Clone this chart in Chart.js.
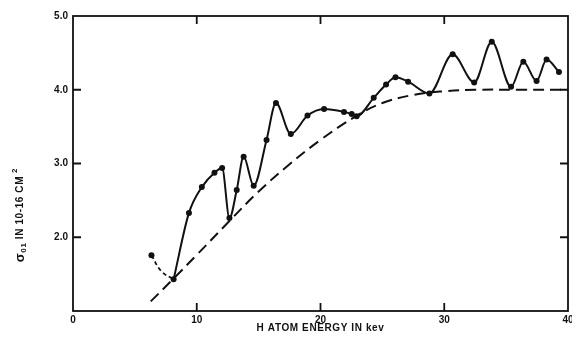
<!DOCTYPE html>
<html><head><meta charset="utf-8">
<script src="https://cdn.jsdelivr.net/npm/chart.js@4/dist/chart.umd.min.js"></script>
<style>html,body{margin:0;padding:0;background:#fff}</style>
</head><body>
<canvas id="c" width="572" height="344"></canvas>
<script>
// Measured cross section (solid curve with dots), energy in keV
const energyMeasured = [8.13, 9.37, 10.41, 11.43, 12.05, 12.64, 13.23, 13.79, 14.6, 15.64, 16.4, 17.6, 18.95, 20.29, 21.9, 22.52, 22.92, 24.3, 25.3, 26.06, 27.08, 28.8, 30.68, 32.42, 33.84, 35.4, 36.39, 37.46, 38.27, 39.27];
const sigmaMeasured  = [1.43, 2.33, 2.68, 2.875, 2.94, 2.26, 2.64, 3.09, 2.70, 3.32, 3.82, 3.40, 3.65, 3.74, 3.70, 3.67, 3.64, 3.89, 4.07, 4.17, 4.11, 3.95, 4.48, 4.10, 4.65, 4.04, 4.38, 4.12, 4.41, 4.24];
// Low-energy tail (short dashes)
const energyLowTail = [6.34, 7.14, 8.13];
const sigmaLowTail  = [1.755, 1.54, 1.43];
// Smooth baseline (long dashes)
const energyBaseline = [6.28, 8.13, 10, 12.64, 15, 17.5, 20, 22.84, 25, 27.5, 30, 32.5, 36, 40];
const sigmaBaseline  = [1.13, 1.44, 1.76, 2.22, 2.62, 2.99, 3.32, 3.64, 3.82, 3.93, 3.98, 4.0, 4.0, 4.0];
// Axes
const xTickValues = [0, 10, 20, 30, 40];
const yTickValues = [2, 3, 4, 5];
const xInnerTicks = [10, 20, 30];
const yInnerTicks = [2, 3, 4];
const xTitle = 'H ATOM ENERGY IN kev';
const yTitleMain = 'σ';
const yTitleSub = '01';
const yTitleMid = ' IN 10-16 CM';
const yTitleSup = '2';

const toPts = (xs, ys) => xs.map((x, i) => ({x: x, y: ys[i]}));
const FONT = '"Liberation Sans", Arial, sans-serif';

const framePlugin = {
  id: 'frame',
  afterDraw(chart) {
    const ctx = chart.ctx, a = chart.chartArea;
    const xs = chart.scales.x, ys = chart.scales.y;
    ctx.save();
    ctx.strokeStyle = '#111';
    ctx.lineWidth = 1.8;
    ctx.strokeRect(a.left, a.top, a.right - a.left, a.bottom - a.top);
    const L = 8;
    ctx.beginPath();
    xInnerTicks.forEach(v => {
      const p = xs.getPixelForValue(v);
      ctx.moveTo(p, a.bottom); ctx.lineTo(p, a.bottom - L);
      ctx.moveTo(p, a.top); ctx.lineTo(p, a.top + L);
    });
    yInnerTicks.forEach(v => {
      const p = ys.getPixelForValue(v);
      ctx.moveTo(a.left, p); ctx.lineTo(a.left + L, p);
      ctx.moveTo(a.right, p); ctx.lineTo(a.right - L, p);
    });
    ctx.stroke();
    // titles
    ctx.fillStyle = '#111';
    ctx.textBaseline = 'middle';
    ctx.textAlign = 'center';
    ctx.letterSpacing = '0.6px';
    ctx.font = 'bold 10px ' + FONT;
    ctx.fillText(xTitle, (a.left + a.right) / 2, 328);
    // rotated y title
    ctx.translate(20, 215);
    ctx.rotate(-Math.PI / 2);
    ctx.textAlign = 'left';
    const f1 = 'bold 13px ' + FONT, f2 = 'bold 8px ' + FONT, f3 = 'bold 10px ' + FONT;
    ctx.font = f1; const w1 = ctx.measureText(yTitleMain).width;
    ctx.font = f2; const w2 = ctx.measureText(yTitleSub).width;
    ctx.font = f3; const w3 = ctx.measureText(yTitleMid).width;
    ctx.font = f2; const w4 = ctx.measureText(yTitleSup).width;
    let x = -(w1 + w2 + w3 + w4 + 3) / 2;
    ctx.font = f1; ctx.fillText(yTitleMain, x, 0); x += w1;
    ctx.font = f2; ctx.fillText(yTitleSub, x, 4); x += w2;
    ctx.font = f3; ctx.fillText(yTitleMid, x, 0); x += w3 + 3;
    ctx.font = f2; ctx.fillText(yTitleSup, x, -5);
    ctx.restore();
  }
};

new Chart(document.getElementById('c'), {
  type: 'line',
  data: {
    datasets: [
      {
        data: toPts(energyMeasured, sigmaMeasured),
        borderColor: '#111', backgroundColor: '#111',
        borderWidth: 2, pointRadius: 3, pointBackgroundColor: '#111', pointBorderWidth: 0,
        cubicInterpolationMode: 'monotone', fill: false
      },
      {
        data: toPts(energyLowTail, sigmaLowTail),
        borderColor: '#111', borderWidth: 1.8, borderDash: [4, 3],
        pointRadius: [3, 0, 0], pointBackgroundColor: '#111', pointBorderWidth: 0,
        tension: 0.45, fill: false
      },
      {
        data: toPts(energyBaseline, sigmaBaseline),
        borderColor: '#111', borderWidth: 2, borderDash: [11, 6],
        pointRadius: 0, tension: 0.4, fill: false
      }
    ]
  },
  options: {
    responsive: false,
    devicePixelRatio: 1,
    animation: false,
    layout: {padding: {top: 16, right: 2, left: 0, bottom: 0}},
    plugins: {legend: {display: false}, tooltip: {enabled: false}, title: {display: false}},
    scales: {
      x: {
        type: 'linear', min: 0, max: 40,
        grid: {display: false, drawTicks: false},
        border: {display: false},
        afterBuildTicks: s => { s.ticks = xTickValues.map(v => ({value: v})); },
        ticks: {color: '#111', font: {family: FONT, size: 10, weight: 'bold'}, padding: 3, maxRotation: 0,
                callback: v => String(v)},
        afterFit: s => { s.height = 33; s.paddingLeft = 0; s.paddingRight = 0; }
      },
      y: {
        type: 'linear', min: 1, max: 5,
        grid: {display: false, drawTicks: false},
        border: {display: false},
        afterBuildTicks: s => { s.ticks = yTickValues.map(v => ({value: v})); },
        ticks: {color: '#111', font: {family: FONT, size: 10, weight: 'bold'}, padding: 5,
                callback: v => Number(v).toFixed(1)},
        afterFit: s => { s.width = 73; s.paddingTop = 0; s.paddingBottom = 0; }
      }
    }
  },
  plugins: [framePlugin]
});
</script>
</body></html>
